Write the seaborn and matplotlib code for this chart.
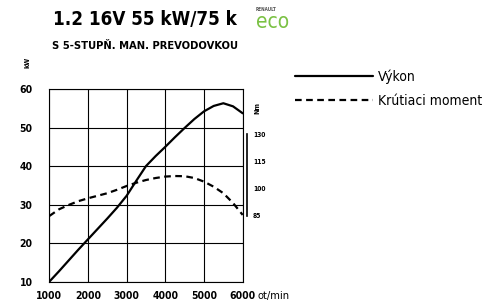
import matplotlib
matplotlib.use("Agg")
import seaborn as sns
import pandas as pd
from matplotlib import pyplot as plt
from matplotlib.lines import Line2D

rpm = [1000, 1250, 1500, 1750, 2000, 2250, 2500, 2750, 3000, 3250, 3500,
       3750, 4000, 4250, 4500, 4750, 5000, 5250, 5500, 5750, 6000]
power_kw = [10, 12.7, 15.5, 18.3, 21, 23.7, 26.4, 29.2, 32.3, 36.2, 40,
            42.6, 45, 47.5, 49.9, 52.2, 54.2, 55.6, 56.3, 55.5, 53.7]
torque_nm = [84.8, 88.5, 90.9, 93, 94.6, 96, 97.4, 99.3, 101.4, 103.2, 104.7,
             105.8, 106.6, 106.9, 106.8, 105.8, 103.8, 101, 97.4, 92, 85.4]

x_ticks = [1000, 2000, 3000, 4000, 5000, 6000]
kw_ticks = [10, 20, 30, 40, 50, 60]
nm_ticks = [85, 100, 115, 130]

title = "1.2 16V 55 kW/75 k"
subtitle = "S 5-STUPŇ. MAN. PREVODOVKOU"
labels = ["Výkon", "Krútiaci moment"]

df = pd.DataFrame({"rpm": rpm, "power": power_kw, "torque": torque_nm})

sns.set_style("white")
plt.rcParams["font.family"] = ["DejaVu Sans"]
plt.rcParams["font.stretch"] = "condensed"
plt.rcParams["text.color"] = "black"
plt.rcParams["xtick.color"] = "black"
plt.rcParams["ytick.color"] = "black"

fig = plt.figure(figsize=(5.01, 3.03), dpi=100)
ax = fig.add_axes([0.0984, 0.0703, 0.386, 0.636])

sns.lineplot(data=df, x="rpm", y="power", ax=ax, color="black", linewidth=1.6)
ax.set_xlim(1000, 6000)
ax.set_ylim(10, 60)
ax.set_xticks(x_ticks)
ax.set_yticks(kw_ticks)
ax.grid(True, color="black", linewidth=0.8)
for s in ax.spines.values():
    s.set_color("black")
    s.set_linewidth(0.8)
ax.tick_params(length=0, labelsize=7.5)
ax.tick_params(axis="y", pad=12)
ax.tick_params(axis="x", pad=7)
for t in ax.get_xticklabels() + ax.get_yticklabels():
    t.set_fontweight("bold")
ax.set_xlabel("")
ax.set_ylabel("")

ax2 = ax.twinx()
sns.lineplot(data=df, x="rpm", y="torque", ax=ax2, color="black", linewidth=1.6,
             linestyle=(0, (3, 2)))
ax2.set_ylim(48.5, 155)
ax2.set_yticks(nm_ticks)
ax2.set_ylabel("")
ax2.grid(False)
for name in ["top", "left", "bottom"]:
    ax2.spines[name].set_visible(False)
ax2.spines["right"].set_position(("outward", 3.4))
ax2.spines["right"].set_bounds(85, 130)
ax2.spines["right"].set_linewidth(1.2)
ax2.spines["right"].set_color("black")
ax2.tick_params(length=0, labelsize=4.8, pad=4)
for t in ax2.get_yticklabels():
    t.set_fontweight("bold")

fig.text(0.29, 0.935, title, ha="center", va="center", fontsize=13.5, fontweight="bold")
fig.text(0.29, 0.848, subtitle, ha="center", va="center", fontsize=8, fontweight="bold")
fig.text(0.53, 0.968, "RENAULT", ha="center", va="center", fontsize=3.3,
         fontweight="bold", color="#555555")
fig.text(0.545, 0.928, "eco", ha="center", va="center", fontsize=15, color="#7ac143")

fig.text(0.054, 0.795, "kW", ha="center", va="center", rotation=90, fontsize=5,
         fontweight="bold")
fig.text(0.514, 0.643, "Nm", ha="center", va="center", rotation=90, fontsize=5,
         fontweight="bold")
fig.text(0.513, 0.022, "ot/min", ha="left", va="center", fontsize=8)

handles = [Line2D([], [], color="black", linewidth=1.6),
           Line2D([], [], color="black", linewidth=1.6, linestyle=(0, (3, 2)))]
fig.legend(handles, labels, loc="upper left", bbox_to_anchor=(0.578, 0.79),
           frameon=False, fontsize=10, handlelength=5.6, handletextpad=0.35,
           labelspacing=0.72, borderaxespad=0)

fig.savefig("out.png", dpi=100)
